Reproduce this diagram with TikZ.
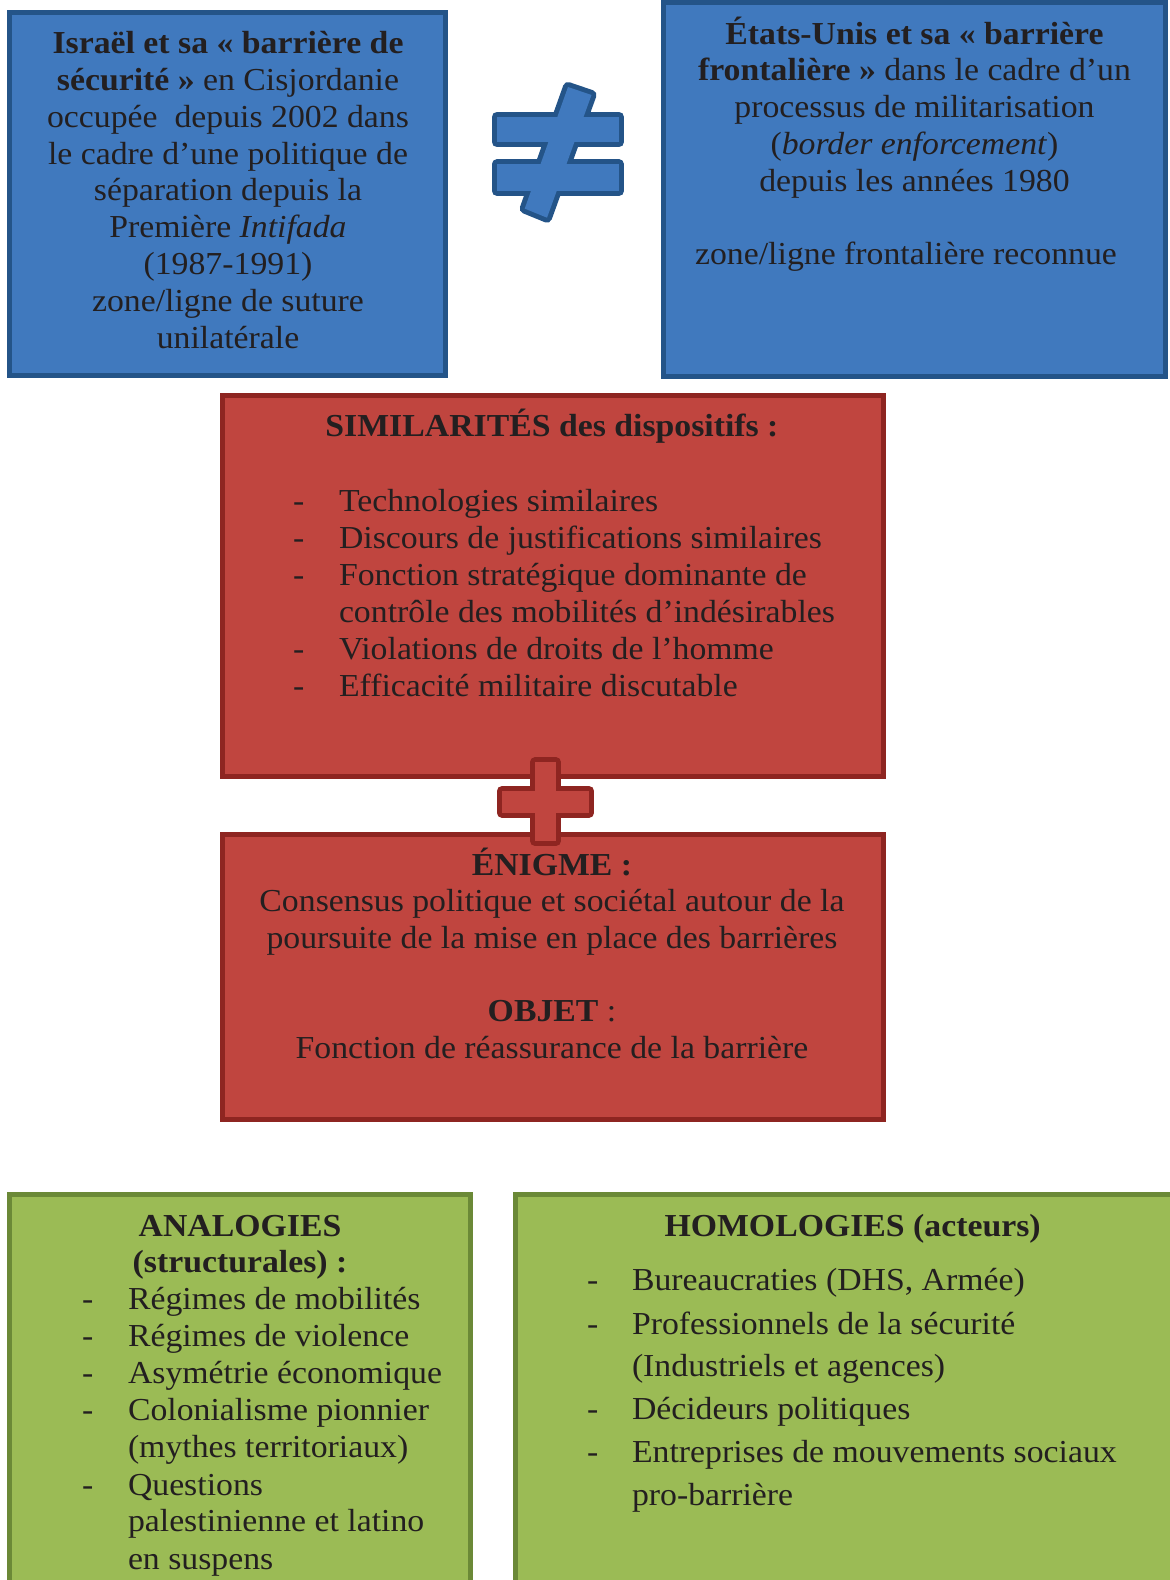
\documentclass[tikz,border=0pt]{standalone}
\usepackage{fontspec}
\setmainfont[FakeStretch=1.055]{Liberation Serif}
\definecolor{bluefill}{HTML}{4079BE}
\definecolor{blueline}{HTML}{245488}
\definecolor{redfill}{HTML}{C0453F}
\definecolor{redline}{HTML}{8E2521}
\definecolor{greenfill}{HTML}{9BBB55}
\definecolor{greenline}{HTML}{6B8937}
\definecolor{ink}{HTML}{231F20}
\begin{document}
\begin{tikzpicture}[x=1pt, y=-1pt,
  panel/.style={rectangle, line width=5pt, inner sep=0pt, outer sep=0pt},
  bluebox/.style={panel, draw=blueline, fill=bluefill},
  redbox/.style={panel, draw=redline, fill=redfill},
  greenbox/.style={panel, draw=greenline, fill=greenfill},
  txt/.style={inner sep=0pt, outer sep=0pt, text=ink, font=\fontsize{32}{37}\selectfont, anchor=base},
  txtl/.style={txt, anchor=base west},
  symstroke/.style={line width=10pt, line join=round},
]
\useasboundingbox (0,0) rectangle (1170,1580);
\clip (0,0) rectangle (1170,1580);

% ---------- panels ----------
\node[bluebox, minimum width=436pt, minimum height=363pt] (israel) at (227.5,194) {};
\node[bluebox, minimum width=502pt, minimum height=374pt] (usa) at (914.5,189.5) {};
\node[redbox, minimum width=661pt, minimum height=381pt] (simil) at (553,586) {};
\node[redbox, minimum width=661pt, minimum height=285pt] (enigme) at (553,977) {};
\node[greenbox, minimum width=461pt, minimum height=406pt] (analog) at (240,1397.5) {};
\node[greenbox, minimum width=670pt, minimum height=406pt] (homolog) at (850.5,1397.5) {};

% ---------- not-equal sign ----------
\begin{scope}
  \draw[symstroke, blueline] (496.7,116.7) rectangle (619,142.3);
  \draw[symstroke, blueline] (496.7,164.3) rectangle (619,191);
  \draw[symstroke, blueline] (568,87) -- (591.5,95) -- (547,217.7) -- (524.7,208.6) -- cycle;
  \fill[bluefill] (496.7,116.7) rectangle (619,142.3);
  \fill[bluefill] (496.7,164.3) rectangle (619,191);
  \fill[bluefill] (568,87) -- (591.5,95) -- (547,217.7) -- (524.7,208.6) -- cycle;
\end{scope}

% ---------- plus sign ----------
\begin{scope}
  \draw[symstroke, redline] (535,762.3) rectangle (556,841);
  \draw[symstroke, redline] (501.7,791) rectangle (589.3,812.7);
  \fill[redfill] (535,762.3) rectangle (556,841);
  \fill[redfill] (501.7,791) rectangle (589.3,812.7);
\end{scope}

% ---------- Israel box text ----------
\node[txt] (i1) at (228,53.3) {\textbf{Israël et sa « barrière de}};
\node[txt] (i2) at (228,90.2) {\textbf{sécurité »} en Cisjordanie};
\node[txt] (i3) at (228,127.1) {occupée\ \ depuis 2002 dans};
\node[txt] (i4) at (228,164) {le cadre d’une politique de};
\node[txt] (i5) at (228,200.9) {séparation depuis la};
\node[txt] (i6) at (228,237.8) {Première \textit{Intifada}};
\node[txt] (i7) at (228,274.7) {(1987-1991)};
\node[txt] (i8) at (228,311.6) {zone/ligne de suture};
\node[txt] (i9) at (228,348.5) {unilatérale};

% ---------- USA box text ----------
\node[txt] (u1) at (914.5,44) {\textbf{États-Unis et sa « barrière}};
\node[txt] (u2) at (914.5,80.8) {\textbf{frontalière »} dans le cadre d’un};
\node[txt] (u3) at (914.5,117.6) {processus de militarisation};
\node[txt] (u4) at (914.5,154.4) {(\textit{border enforcement})};
\node[txt] (u5) at (914.5,191.2) {depuis les années 1980};
\node[txt] (u6) at (906,264.8) {zone/ligne frontalière reconnue};

% ---------- Similarites ----------
\node[txt] (s0) at (552,436.7) {\textbf{SIMILARITÉS des dispositifs :}};
\node[txtl] (sd1) at (293,511) {-};
\node[txtl] (s1) at (339,511) {Technologies similaires};
\node[txtl] (sd2) at (293,548) {-};
\node[txtl] (s2) at (339,548) {Discours de justifications similaires};
\node[txtl] (sd3) at (293,585) {-};
\node[txtl] (s3) at (339,585) {Fonction stratégique dominante de};
\node[txtl] (s3b) at (339,622) {contrôle des mobilités d’indésirables};
\node[txtl] (sd4) at (293,659) {-};
\node[txtl] (s4) at (339,659) {Violations de droits de l’homme};
\node[txtl] (sd5) at (293,696.5) {-};
\node[txtl] (s5) at (339,696.5) {Efficacité militaire discutable};

% ---------- Enigme ----------
\node[txt] (e1) at (552,875) {\textbf{ÉNIGME :}};
\node[txt] (e2) at (552,911.5) {Consensus politique et sociétal autour de la};
\node[txt] (e3) at (552,948) {poursuite de la mise en place des barrières};
\node[txt] (e4) at (552,1021.7) {\textbf{OBJET} :};
\node[txt] (e5) at (552,1058.3) {Fonction de réassurance de la barrière};

% ---------- Analogies ----------
\node[txt] (a0) at (240,1236) {\textbf{ANALOGIES}};
\node[txt] (a0b) at (240,1272.7) {\textbf{(structurales) :}};
\node[txtl] (ad1) at (82,1309.3) {-};
\node[txtl] (a1) at (128,1309.3) {Régimes de mobilités};
\node[txtl] (ad2) at (82,1346) {-};
\node[txtl] (a2) at (128,1346) {Régimes de violence};
\node[txtl] (ad3) at (82,1383.3) {-};
\node[txtl] (a3) at (128,1383.3) {Asymétrie économique};
\node[txtl] (ad4) at (82,1420.7) {-};
\node[txtl] (a4) at (128,1420.7) {Colonialisme pionnier};
\node[txtl] (a4b) at (128,1457.3) {(mythes territoriaux)};
\node[txtl] (ad5) at (82,1495) {-};
\node[txtl] (a5) at (128,1495) {Questions};
\node[txtl] (a5b) at (128,1531.7) {palestinienne et latino};
\node[txtl] (a5c) at (128,1569) {en suspens};

% ---------- Homologies ----------
\node[txt] (h0) at (852.6,1236) {\textbf{HOMOLOGIES (acteurs)}};
\node[txtl] (hd1) at (587,1290.7) {-};
\node[txtl] (h1) at (632,1290.7) {Bureaucraties (DHS, Armée)};
\node[txtl] (hd2) at (587,1334) {-};
\node[txtl] (h2) at (632,1334) {Professionnels de la sécurité};
\node[txtl] (h2b) at (632,1376.7) {(Industriels et agences)};
\node[txtl] (hd3) at (587,1419.3) {-};
\node[txtl] (h3) at (632,1419.3) {Décideurs politiques};
\node[txtl] (hd4) at (587,1462.7) {-};
\node[txtl] (h4) at (632,1462.7) {Entreprises de mouvements sociaux};
\node[txtl] (h4b) at (632,1505) {pro-barrière};
\end{tikzpicture}
\end{document}
